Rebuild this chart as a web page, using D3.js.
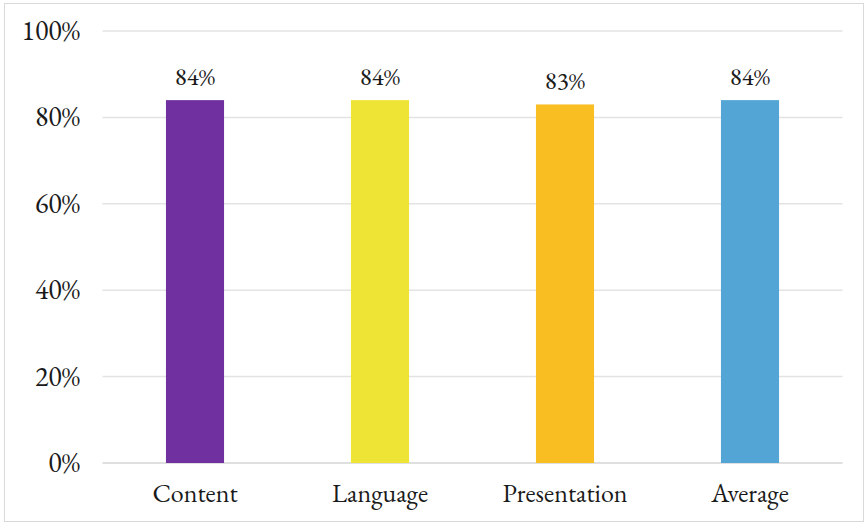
<!DOCTYPE html>
<html>
<head>
<meta charset="utf-8">
<script src="https://cdn.jsdelivr.net/npm/d3@7"></script>
<style>
  html, body { margin: 0; padding: 0; background: #fff; }
  svg { display: block; }
</style>
</head>
<body>
<svg id="chart" width="868" height="524"></svg>
<script>
// Scores per assessment criterion (share of maximum)
const categories = ["Content", "Language", "Presentation", "Average"];
const values = [0.84, 0.84, 0.83, 0.84];
const colors = ["#7030A0", "#EEE436", "#F8BE22", "#52A5D4"];
const yTicks = [0, 0.2, 0.4, 0.6, 0.8, 1.0];

const FONT = '"EB Garamond", "Liberation Serif", "Times New Roman", serif';
const INK = "#1a1a1a";

const svg = d3.select("#chart");
const W = 868, H = 524;
const m = { left: 102.5, right: 25.5, top: 31, bottom: 61 };

// outer chart frame
svg.append("rect")
  .attr("x", 4.5).attr("y", 3.5)
  .attr("width", W - 9).attr("height", H - 6)
  .attr("fill", "none").attr("stroke", "#d9d9d9").attr("stroke-width", 1);

const x = d3.scaleBand()
  .domain(categories)
  .range([m.left, W - m.right])
  .paddingInner(0.686).paddingOuter(0.343);

const y = d3.scaleLinear().domain([0, 1]).range([H - m.bottom, m.top]);

// horizontal gridlines
svg.append("g").selectAll("line")
  .data(yTicks)
  .join("line")
  .attr("x1", m.left).attr("x2", W - m.right)
  .attr("y1", d => y(d)).attr("y2", d => y(d))
  .attr("stroke", d => d === 0 ? "#d4d4d4" : "#e3e3e3")
  .attr("stroke-width", 1.5);

// y axis labels
const yAxis = d3.axisLeft(y).tickValues(yTicks).tickFormat(d3.format(".0%")).tickSize(0).tickPadding(0);
const gy = svg.append("g").attr("transform", `translate(${80},0)`).call(yAxis);
gy.select(".domain").remove();
gy.selectAll("text")
  .style("font-family", FONT)
  .style("font-size", "28px")
  .style("fill", INK)
  .attr("dy", "0.3em");

// bars
svg.append("g").selectAll("rect")
  .data(categories)
  .join("rect")
  .attr("x", d => x(d))
  .attr("width", x.bandwidth())
  .attr("y", (d, i) => y(values[i]))
  .attr("height", (d, i) => y(0) - y(values[i]))
  .attr("fill", (d, i) => colors[i]);

// value labels above bars
svg.append("g").selectAll("text")
  .data(categories)
  .join("text")
  .attr("x", d => x(d) + x.bandwidth() / 2)
  .attr("y", (d, i) => y(values[i]) - 15)
  .attr("text-anchor", "middle")
  .style("font-family", FONT)
  .style("font-size", "25px")
  .style("fill", INK)
  .text((d, i) => d3.format(".0%")(values[i]));

// category axis
const xAxis = d3.axisBottom(x).tickSize(0).tickPadding(0);
const gx = svg.append("g").attr("transform", `translate(0,${y(0)})`).call(xAxis);
gx.select(".domain").remove();
gx.selectAll("text")
  .style("font-family", FONT)
  .style("font-size", "26px")
  .style("fill", INK)
  .attr("dy", 0)
  .attr("y", 39);
</script>
</body>
</html>
